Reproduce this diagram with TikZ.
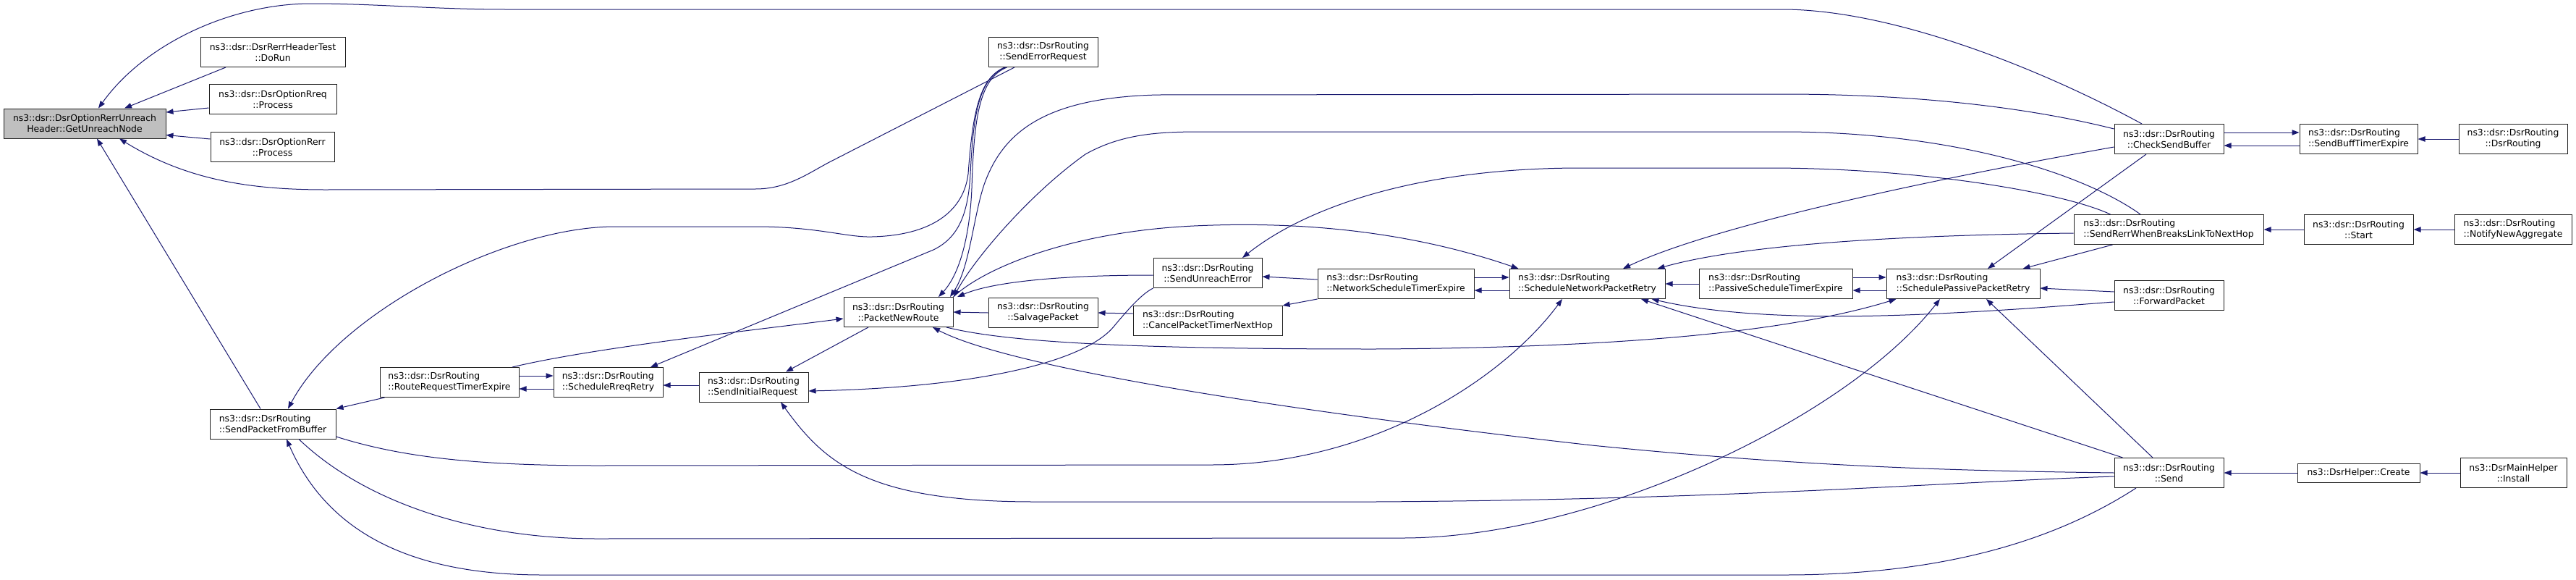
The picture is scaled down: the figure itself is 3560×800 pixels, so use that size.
\documentclass[tikz,border=0pt]{standalone}
\usepackage{fontspec}
\usetikzlibrary{calc,arrows.meta}
\newfontfamily\dvs{DejaVu Sans}
\newcommand\cgfont{\dvs\fontsize{9.3}{11.25}\selectfont}
\definecolor{edgec}{HTML}{191970}
\definecolor{gunfill}{HTML}{BFBFBF}
\definecolor{boxc}{HTML}{202020}
\tikzset{
  box/.style={draw=boxc, line width=0.75pt, fill=white, inner sep=0pt,
    minimum height=30.75pt, font=\cgfont, align=center},
  lbox/.style={box, align=left},
  bw/.style={minimum width=#1*0.75pt},
  cg/.style={draw=edgec, line width=0.75pt, >={Triangle[length=7.5pt,width=5.5pt]}, <-},
}
\begin{document}
\begin{tikzpicture}[x=0.75pt,y=-0.75pt]
\useasboundingbox (0,0) rectangle (3560,800);
\fill[white] (0,0) rectangle (3560,800);

% nodes
\node[box, bw=224, fill=gunfill] (gun) at (117,170.5) {ns3::dsr::DsrOptionRerrUnreach\\Header::GetUnreachNode};
\node[box, bw=200] (dorun) at (377,72) {ns3::dsr::DsrRerrHeaderTest\\::DoRun};
\node[box, bw=176] (rreq) at (377,137) {ns3::dsr::DsrOptionRreq\\::Process};
\node[box, bw=171] (rerr) at (376.5,203) {ns3::dsr::DsrOptionRerr\\::Process};
\node[lbox, bw=174] (spfb) at (377,585.5) {ns3::dsr::DsrRouting\\::SendPacketFromBuffer};
\node[lbox, bw=192] (rrte) at (621,528) {ns3::dsr::DsrRouting\\::RouteRequestTimerExpire};
\node[lbox, bw=151] (srr) at (840.5,528) {ns3::dsr::DsrRouting\\::ScheduleRreqRetry};
\node[lbox, bw=151] (sir) at (1041.5,534.5) {ns3::dsr::DsrRouting\\::SendInitialRequest};
\node[box, bw=151] (pnr) at (1241.5,431) {ns3::dsr::DsrRouting\\::PacketNewRoute};
\node[box, bw=151] (ser) at (1441.5,72) {ns3::dsr::DsrRouting\\::SendErrorRequest};
\node[box, bw=151] (salv) at (1441.5,432) {ns3::dsr::DsrRouting\\::SalvagePacket};
\node[box, bw=150] (sue) at (1669,377) {ns3::dsr::DsrRouting\\::SendUnreachError};
\node[lbox, bw=206] (cptnh) at (1669,443) {ns3::dsr::DsrRouting\\::CancelPacketTimerNextHop};
\node[lbox, bw=216] (nste) at (1929,392) {ns3::dsr::DsrRouting\\::NetworkScheduleTimerExpire};
\node[lbox, bw=215] (snpr) at (2193.5,392) {ns3::dsr::DsrRouting\\::ScheduleNetworkPacketRetry};
\node[lbox, bw=212] (pste) at (2454,392) {ns3::dsr::DsrRouting\\::PassiveScheduleTimerExpire};
\node[lbox, bw=212] (sppr) at (2713,392) {ns3::dsr::DsrRouting\\::SchedulePassivePacketRetry};
\node[box, bw=151] (csb) at (2997.5,192) {ns3::dsr::DsrRouting\\::CheckSendBuffer};
\node[lbox, bw=262] (srerr) at (2997,317) {ns3::dsr::DsrRouting\\::SendRerrWhenBreaksLinkToNextHop};
\node[box, bw=151] (fwd) at (2997.5,408) {ns3::dsr::DsrRouting\\::ForwardPacket};
\node[box, bw=151] (send) at (2997.5,653) {ns3::dsr::DsrRouting\\::Send};
\node[lbox, bw=163] (sbte) at (3259.5,192) {ns3::dsr::DsrRouting\\::SendBuffTimerExpire};
\node[box, bw=151] (start) at (3259.5,317) {ns3::dsr::DsrRouting\\::Start};
\node[box, bw=169, minimum height=19.5pt] (create) at (3259.5,653) {ns3::DsrHelper::Create};
\node[box, bw=150] (dsrr) at (3473,192) {ns3::dsr::DsrRouting\\::DsrRouting};
\node[lbox, bw=162] (nna) at (3473,317) {ns3::dsr::DsrRouting\\::NotifyNewAggregate};
\node[box, bw=147] (install) at (3473.5,653) {ns3::DsrMainHelper\\::Install};

% edges (arrow at callee)
\draw[cg] ($(gun.north)+(19,0)$) .. controls (200,60) and (320,5) .. (430,5) .. controls (520,5) and (600,13) .. (700,13) -- (2463,13) .. controls (2620,13) and (2830,100) .. ($(csb.north)+(-37.5,0)$);
\draw[cg] ($(gun.north)+(55,0)$) -- ($(dorun.south)+(-65,0)$);
\draw[cg] ($(gun.east)+(0,-15.5)$) -- ($(rreq.west)+(0,12)$);
\draw[cg] ($(gun.east)+(0,16)$) -- ($(rerr.west)+(0,-11)$);
\draw[cg] ($(gun.south)+(17,0)$) -- ($(spfb.north)+(-17,0)$);
\draw[cg] ($(gun.south)+(48,0)$) .. controls (260,250) and (350,262) .. (450,262) -- (1044,261) .. controls (1090,261) and (1120,237) .. (1150,222) -- ($(ser.south)+(-39.5,0)$);
\draw[cg] ($(spfb.north)+(21,0)$) .. controls (470,430) and (700,313) .. (850,313) -- (1044,313) .. controls (1130,313) and (1170,328) .. (1205,327) .. controls (1290,325) and (1332,290) .. (1338,240) .. controls (1344,160) and (1352,108) .. ($(ser.south)+(-53,0)$);
\draw[cg] ($(srr.north)+(58.5,0)$) -- (1290,345) .. controls (1325,328) and (1338,295) .. (1341,240) .. controls (1345,160) and (1352,108) .. ($(ser.south)+(-52,0)$);
\draw[cg] ($(pnr.north)+(55.5,0)$) .. controls (1325,380) and (1340,330) .. (1343,260) .. controls (1346,160) and (1354,108) .. ($(ser.south)+(-50,0)$);
\draw[cg] ($(pnr.north)+(71.5,0)$) .. controls (1340,370) and (1345,300) .. (1360,255) .. controls (1385,185) and (1440,135) .. (1600,131) -- (2463,130) .. controls (2700,130) and (2850,160) .. ($(csb.west)+(0,-14)$);
\draw[cg] ($(pnr.north)+(76.5,0)$) .. controls (1345,360) and (1420,270) .. (1500,213) .. controls (1550,185) and (1600,182) .. (1660,182) -- (2463,182) .. controls (2700,182) and (2880,240) .. ($(srerr.north)+(-39,0)$);
\draw[cg] ($(pnr.north)+(81.5,0)$) .. controls (1370,390) and (1460,380) .. ($(sue.west)+(0,3)$);
\draw[cg] ($(pnr.west)+(0,9)$) .. controls (1050,455) and (820,480) .. ($(rrte.north)+(87,0)$);
\draw[cg] (pnr.east) -- (salv.west);
\draw[cg] ($(pnr.south)+(47.5,0)$) .. controls (1400,510) and (1800,570) .. (2200,615) .. controls (2500,645) and (2700,650) .. (send.west);
\draw[cg] ($(sir.south)+(37.5,0)$) .. controls (1140,640) and (1200,693) .. (1430,693) -- (1900,693) .. controls (2400,690) and (2700,665) .. ($(send.west)+(0,5)$);
\draw[cg] ($(srr.east)+(0,4)$) -- ($(sir.west)+(0,-2.5)$);
\draw[cg] ($(sir.north)+(44.5,0)$) -- ($(pnr.south)+(-41.5,0)$);
\draw[cg] ($(sir.east)+(0,5.5)$) .. controls (1350,535) and (1500,500) .. (1540,450) .. controls (1565,420) and (1580,405) .. (sue.south west);
\draw[cg] ($(srr.west)+(0,-9)$) -- ($(rrte.east)+(0,-9)$);
\draw[cg] ($(rrte.east)+(0,9)$) -- ($(srr.west)+(0,9)$);
\draw[cg] (spfb.north east) -- ($(rrte.south west)+(7,0)$);
\draw[cg] ($(snpr.south)+(-34.5,0)$) .. controls (2080,520) and (1900,642) .. (1674,642) -- (826,643) .. controls (650,643) and (550,630) .. ($(spfb.east)+(0,17.5)$);
\draw[cg] ($(sppr.south)+(-32,0)$) .. controls (2550,580) and (2200,743) .. (1938,743) -- (826,744) .. controls (650,744) and (500,690) .. ($(spfb.south)+(36,0)$);
\draw[cg] ($(spfb.south)+(19,0)$) .. controls (450,730) and (560,794) .. (750,794) -- (2466,794) .. controls (2700,794) and (2850,740) .. ($(send.south)+(-45.5,0)$);
\draw[cg] ($(snpr.north west)+(13,0)$) .. controls (1950,320) and (1800,305) .. (1650,312) .. controls (1480,320) and (1360,370) .. (pnr.north east);
\draw[cg] ($(sppr.south west)+(14,0)$) .. controls (2500,450) and (2300,480) .. (1900,482) .. controls (1600,482) and (1400,475) .. ($(pnr.south)+(66.5,0)$);
\draw[cg] ($(snpr.north)+(49.5,0)$) .. controls (2350,320) and (2600,260) .. ($(csb.west)+(0,11)$);
\draw[cg] ($(snpr.north east)+(-11,0)$) .. controls (2400,340) and (2600,325) .. ($(srerr.west)+(0,5)$);
\draw[cg] ($(snpr.south)+(74.5,0)$) -- ($(send.north west)+(12,0)$);
\draw[cg] ($(snpr.south east)+(-19,0)$) .. controls (2400,440) and (2550,440) .. (2700,432) .. controls (2800,427) and (2880,420) .. ($(fwd.west)+(0,9)$);
\draw[cg] (snpr.east) -- (pste.west);
\draw[cg] ($(snpr.west)+(0,-9)$) -- ($(nste.east)+(0,-9)$);
\draw[cg] ($(nste.east)+(0,9)$) -- ($(snpr.west)+(0,9)$);
\draw[cg] ($(sue.east)+(0,5)$) -- ($(nste.west)+(0,-6)$);
\draw[cg] (cptnh.north east) -- (nste.south west);
\draw[cg] (salv.east) -- ($(cptnh.west)+(0,-10)$);
\draw[cg] ($(sue.north)+(48,0)$) .. controls (1800,290) and (1950,232) .. (2185,232) -- (2444,232) .. controls (2650,232) and (2850,265) .. ($(srerr.north west)+(51,0)$);
\draw[cg] ($(sppr.west)+(0,-9)$) -- ($(pste.east)+(0,-9)$);
\draw[cg] ($(pste.east)+(0,9)$) -- ($(sppr.west)+(0,9)$);
\draw[cg] ($(sppr.north)+(34,0)$) -- ($(csb.south)+(-31.5,0)$);
\draw[cg] ($(sppr.north east)+(-24,0)$) -- ($(srerr.south west)+(54,0)$);
\draw[cg] ($(sppr.east)+(0,6)$) -- ($(fwd.west)+(0,-5)$);
\draw[cg] ($(sppr.south)+(32,0)$) -- ($(send.north)+(-22.5,0)$);
\draw[cg] ($(sbte.west)+(0,-9)$) -- ($(csb.east)+(0,-9)$);
\draw[cg] ($(csb.east)+(0,9)$) -- ($(sbte.west)+(0,9)$);
\draw[cg] (sbte.east) -- (dsrr.west);
\draw[cg] (srerr.east) -- (start.west);
\draw[cg] (start.east) -- (nna.west);
\draw[cg] (send.east) -- (create.west);
\draw[cg] (create.east) -- (install.west);
\end{tikzpicture}
\end{document}
